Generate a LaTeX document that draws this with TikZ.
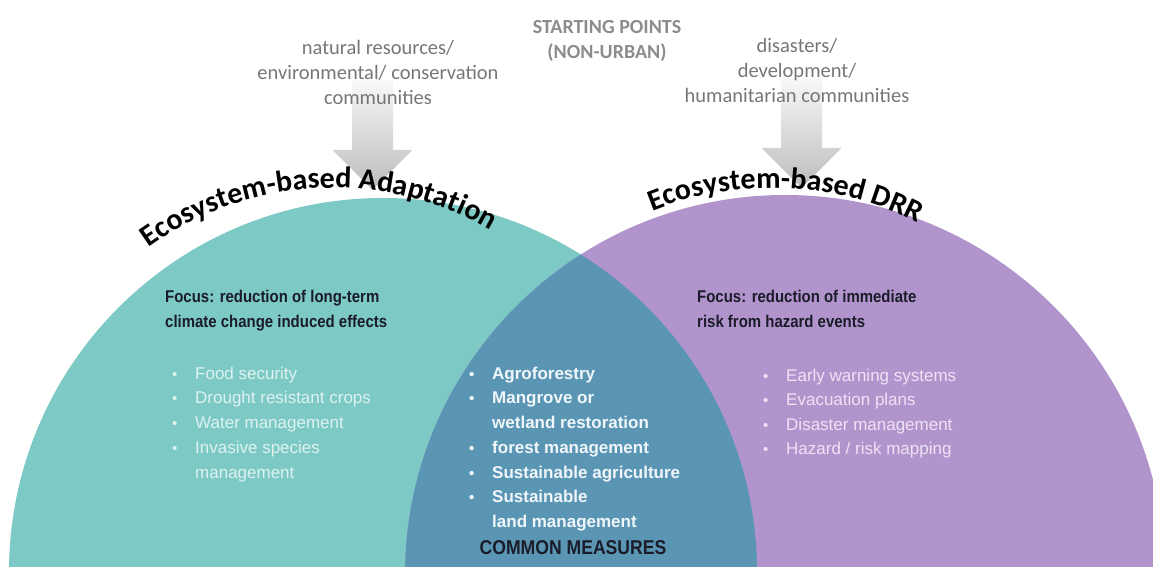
\documentclass[tikz,border=0pt]{standalone}
\usepackage{fontspec}
\setmainfont{Liberation Sans}
\newfontfamily\calfont{Carlito}
\newfontfamily\narrowfont{Liberation Sans}[FakeStretch=0.88]
\usetikzlibrary{decorations.text,calc}

\definecolor{eteal}{RGB}{125,201,197}
\definecolor{epurple}{RGB}{178,148,204}
\definecolor{eoverlap}{RGB}{90,150,180}
\definecolor{notegray}{RGB}{118,118,118}
\definecolor{startgray}{RGB}{140,140,140}
\definecolor{tealtext}{RGB}{222,242,240}
\definecolor{purpletext}{RGB}{238,226,245}
\definecolor{commontext}{RGB}{240,246,250}
\definecolor{focusdark}{RGB}{26,28,42}
\definecolor{arrowtop}{RGB}{248,248,248}
\definecolor{arrowbottom}{RGB}{188,188,188}

% bullet and hanging indent for the measure lists
\newcommand{\itemdot}{\makebox[23pt][l]{\fontsize{15}{15}\selectfont\textbullet}}
\newcommand{\hangin}{\hspace*{23pt}}

\tikzset{
  note/.style={font=\calfont\fontsize{20.5}{25}\selectfont, text=notegray,
    inner sep=0pt, anchor=north},
  startnote/.style={font=\calfont\bfseries\fontsize{20}{25}\selectfont,
    text=startgray, inner sep=0pt, anchor=north},
  focus/.style={font=\narrowfont\bfseries\fontsize{17}{25}\selectfont,
    text=focusdark, inner sep=0pt, anchor=north west},
  measures/.style={font=\fontsize{17}{24.7}\selectfont, inner sep=0pt,
    anchor=north west},
  common/.style={font=\narrowfont\bfseries\fontsize{20}{22}\selectfont,
    text=focusdark, inner sep=0pt},
  arrowshade/.style={top color=arrowtop, bottom color=arrowbottom},
  titlearc/.style={decorate, decoration={text along path, text align=center,
    text={|\calfont\bfseries\fontsize{30}{32}\selectfont|#1}}}
}

\begin{document}
\begin{tikzpicture}[x=1pt,y=1pt]
\useasboundingbox (0,0) rectangle (1153,567);
\clip (0,0) rectangle (1153,567);

% the two half-discs and their common area
\fill[eteal] (383,-5) circle[radius=374pt];
\fill[epurple] (785,-8) circle[radius=380pt];
\begin{scope}
  \clip (383,-5) circle[radius=374pt];
  \fill[eoverlap] (785,-8) circle[radius=380pt];
\end{scope}

% block arrows from the communities down to the approaches
\coordinate (ltip) at (372.5,377);
\coordinate (rtip) at (801.5,379);
\shade[arrowshade] ($(ltip)+(-20.5,110)$) -- ++(41,0) -- ++(0,-70) -- ++(19.5,0)
  -- (ltip) -- ++(-40,40) -- ++(19.5,0) -- cycle;
\shade[arrowshade] ($(rtip)+(-20.5,110)$) -- ++(41,0) -- ++(0,-70) -- ++(19.5,0)
  -- (rtip) -- ++(-40,40) -- ++(19.5,0) -- cycle;

% starting points
\node[startnote] (start) at (607,551.1)
  {\begin{tabular}{@{}c@{}}STARTING POINTS\\(NON-URBAN)\end{tabular}};
\node[note] (natres) at (378,530.2)
  {\begin{tabular}{@{}c@{}}natural resources/\\environmental/ conservation\\communities\end{tabular}};
\node[note] (disast) at (797,532.2)
  {\begin{tabular}{@{}c@{}}disasters/\\development/\\humanitarian communities\end{tabular}};

% curved titles
\path[titlearc={Ecosystem-based Adaptation}]
  (333,64) ++(132.85:315pt) arc[start angle=132.85, end angle=52.85, radius=315pt];
\path[titlearc={Ecosystem-based DRR}]
  (772,58) ++(127.45:321pt) arc[start angle=127.45, end angle=47.45, radius=321pt];

% focus statements
\node[focus] (focusA) at (165,282.4)
  {\begin{tabular}{@{}l@{}}Focus: reduction of long-term\\climate change induced effects\end{tabular}};
\node[focus] (focusD) at (697,282.4)
  {\begin{tabular}{@{}l@{}}Focus: reduction of immediate\\risk from hazard events\end{tabular}};

% measures
\node[measures, text=tealtext] (listA) at (172,205.2)
  {\begin{tabular}{@{}l@{}}\itemdot Food security\\\itemdot Drought resistant crops\\
   \itemdot Water management\\\itemdot Invasive species\\\hangin management\end{tabular}};
\node[measures, text=commontext, font=\bfseries\fontsize{17}{24.7}\selectfont] (listC) at (469,205.2)
  {\begin{tabular}{@{}l@{}}\itemdot Agroforestry\\\itemdot Mangrove or\\\hangin wetland restoration\\
   \itemdot forest management\\\itemdot Sustainable agriculture\\\itemdot Sustainable\\
   \hangin land management\end{tabular}};
\node[measures, text=purpletext, font=\fontsize{17}{24.5}\selectfont] (listD) at (763,203.2)
  {\begin{tabular}{@{}l@{}}\itemdot Early warning systems\\\itemdot Evacuation plans\\
   \itemdot Disaster management\\\itemdot Hazard / risk mapping\end{tabular}};
\node[common] (commonM) at (573,19) {COMMON MEASURES};
\end{tikzpicture}
\end{document}
